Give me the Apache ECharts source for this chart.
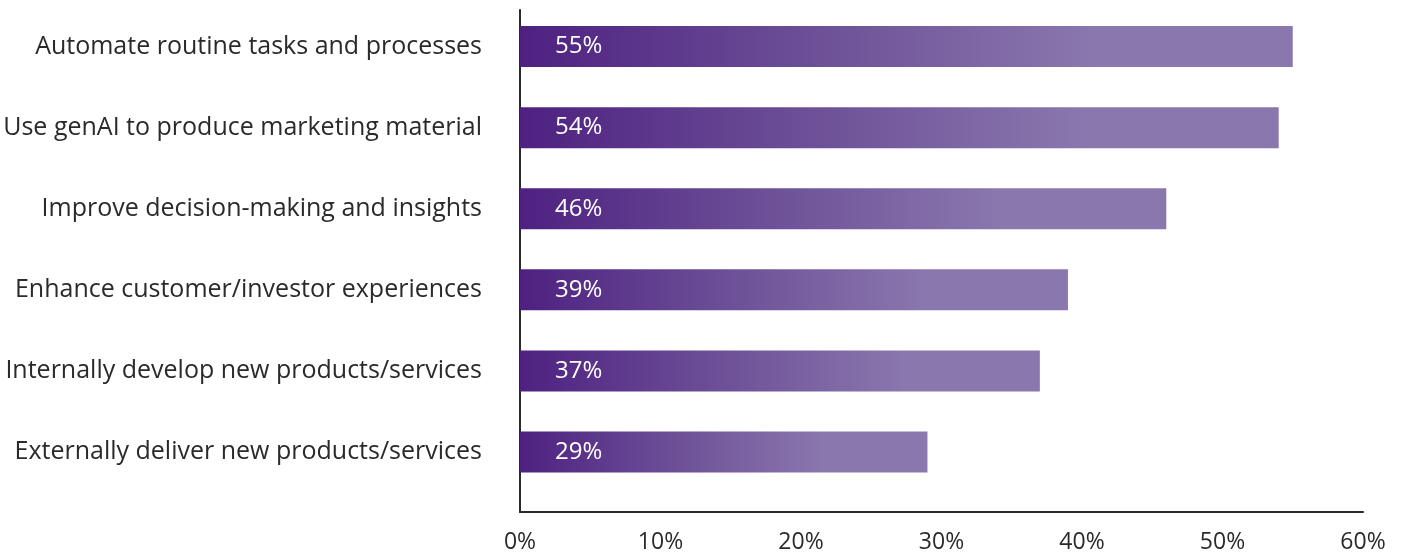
<!DOCTYPE html>
<html>
<head>
<meta charset="utf-8">
<style>
  html, body { margin: 0; padding: 0; background: #ffffff; }
  #chart { width: 1403px; height: 554px; }
</style>
<script src="https://cdn.jsdelivr.net/npm/echarts@6/dist/echarts.min.js"></script>
</head>
<body>
<div id="chart"></div>
<script>
// Survey answers, top to bottom
const categories = [
  'Automate routine tasks and processes',
  'Use genAI to produce marketing material',
  'Improve decision-making and insights',
  'Enhance customer/investor experiences',
  'Internally develop new products/services',
  'Externally deliver new products/services'
];
const shares = [55, 54, 46, 39, 37, 29];
const axisMin = 0;
const axisMax = 60;
const axisStep = 10;

const FONT = '"Open Sans"';
const INK = '#2a2a2a';

const barFill = new echarts.graphic.LinearGradient(0, 0, 1, 0, [
  { offset: 0, color: '#4e2181' },
  { offset: 0.35, color: '#6a4c95' },
  { offset: 0.74, color: '#8a77ae' },
  { offset: 1, color: '#8a77ae' }
]);

const chart = echarts.init(document.getElementById('chart'), null, { renderer: 'canvas' });

chart.setOption({
  animation: false,
  backgroundColor: '#ffffff',
  grid: [
    // bars and category labels
    { left: 520, right: 40, top: 6, bottom: 61.4 },
    // frame with the value axis and the long vertical rule
    { left: 520, right: 40, top: 10, bottom: 41 }
  ],
  xAxis: [
    {
      gridIndex: 0, type: 'value', min: axisMin, max: axisMax, interval: axisStep,
      axisLine: { show: false }, axisTick: { show: false },
      axisLabel: { show: false }, splitLine: { show: false }
    },
    {
      gridIndex: 1, type: 'value', min: axisMin, max: axisMax, interval: axisStep,
      axisLine: { show: true, lineStyle: { color: INK, width: 2 } },
      axisTick: { show: false },
      splitLine: { show: false },
      axisLabel: {
        margin: 19,
        color: INK, fontFamily: FONT, fontSize: 23,
        formatter: v => v + '%'
      }
    }
  ],
  yAxis: [
    {
      gridIndex: 0, type: 'category', data: categories, inverse: true,
      axisLine: { show: false }, axisTick: { show: false }, splitLine: { show: false },
      axisLabel: {
        margin: 38,
        color: INK, fontFamily: FONT, fontSize: 25
      }
    },
    {
      gridIndex: 1, type: 'value', min: 0, max: 1,
      axisLine: { show: true, lineStyle: { color: INK, width: 2 } },
      axisTick: { show: false }, axisLabel: { show: false }, splitLine: { show: false }
    }
  ],
  series: [
    {
      type: 'bar',
      xAxisIndex: 0, yAxisIndex: 0,
      data: shares,
      barWidth: 41,
      itemStyle: { color: barFill },
      label: {
        show: true,
        position: 'insideLeft',
        distance: 35,
        color: '#ffffff',
        fontFamily: FONT,
        fontSize: 24,
        formatter: p => p.value + '%'
      }
    }
  ]
});
</script>
</body>
</html>
